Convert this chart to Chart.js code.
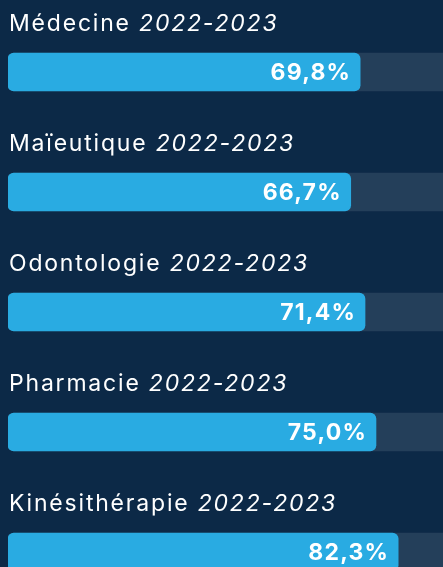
<!DOCTYPE html>
<html>
<head>
<meta charset="utf-8">
<script src="https://cdn.jsdelivr.net/npm/chart.js@4.4.0/dist/chart.umd.min.js"></script>
<style>
  html, body { margin: 0; padding: 0; background: #0c2947; overflow: hidden; }
  #wrap { position: relative; width: 460px; height: 612px; }
</style>
</head>
<body>
<div id="wrap"><canvas id="c"></canvas></div>
<script>
const categories = ["Médecine", "Maïeutique", "Odontologie", "Pharmacie", "Kinésithérapie"];
const years = ["2022-2023", "2022-2023", "2022-2023", "2022-2023", "2022-2023"];
const rates = [69.8, 66.7, 71.4, 75.0, 82.3];
const valueLabels = ["69,8%", "66,7%", "71,4%", "75,0%", "82,3%"];
const trackMax = 100;
const track = categories.map(() => trackMax);
const scaleMin = -46;

const FONT = "Inter, 'Open Sans', sans-serif";

const labelPlugin = {
  id: 'labels',
  afterDatasetsDraw(chart) {
    const ctx = chart.ctx;
    const meta = chart.getDatasetMeta(0);
    ctx.save();
    meta.data.forEach((bar, i) => {
      const yc = bar.y;
      ctx.fillStyle = '#ffffff';
      ctx.textBaseline = 'alphabetic';
      ctx.textAlign = 'left';
      ctx.letterSpacing = '1.8px';
      ctx.font = `400 23px ${FONT}`;
      const t = categories[i] + ' ';
      const x0 = 9;
      ctx.fillText(t, x0, yc - 41);
      const w = ctx.measureText(t).width;
      ctx.font = `italic 400 23px ${FONT}`;
      ctx.fillText(years[i], x0 + w, yc - 41);
      ctx.letterSpacing = '1.2px';
      ctx.font = `700 23px ${FONT}`;
      ctx.textAlign = 'right';
      ctx.fillText(valueLabels[i], bar.x - 9, yc + 8);
    });
    ctx.restore();
  }
};

new Chart(document.getElementById('c'), {
  type: 'bar',
  data: {
    labels: categories,
    datasets: [
      {
        data: rates,
        base: scaleMin,
        backgroundColor: '#29abe2',
        borderRadius: 6,
        borderSkipped: false,
        barThickness: 38,
        grouped: false,
        order: 1
      },
      {
        data: track,
        base: scaleMin,
        backgroundColor: '#243f5a',
        borderRadius: 6,
        borderSkipped: false,
        barThickness: 38,
        grouped: false,
        order: 2
      }
    ]
  },
  options: {
    indexAxis: 'y',
    responsive: true,
    maintainAspectRatio: false,
    animation: false,
    layout: { padding: { left: 8, right: 8, top: 12, bottom: 0 } },
    plugins: { legend: { display: false }, tooltip: { enabled: false } },
    scales: {
      x: { display: false, min: scaleMin, max: 100 },
      y: { display: false }
    }
  },
  plugins: [labelPlugin]
});
</script>
</body>
</html>
